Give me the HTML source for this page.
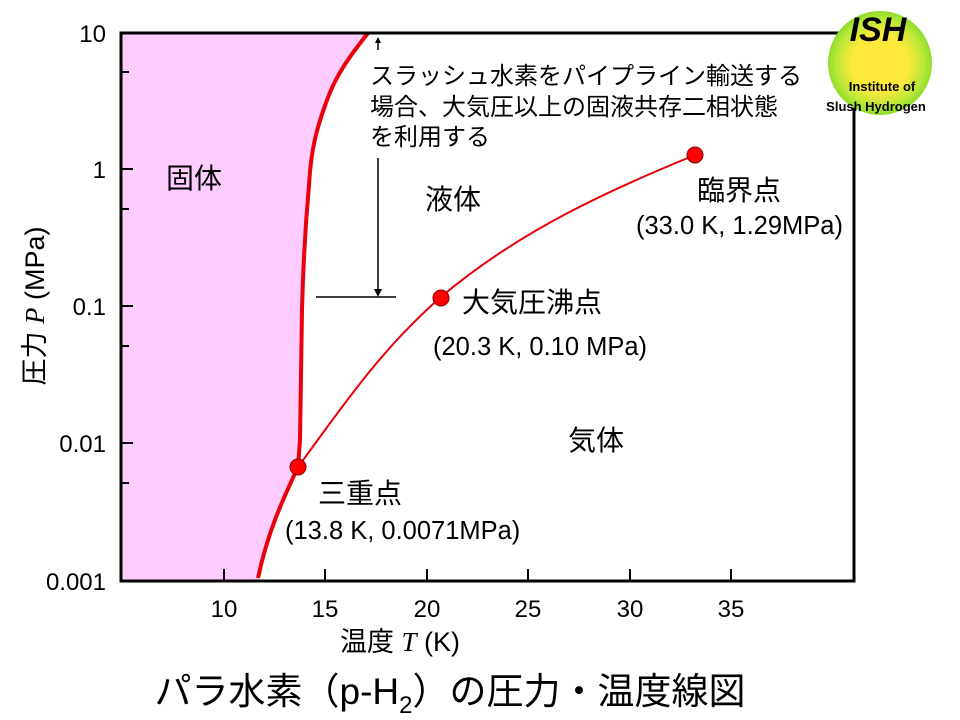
<!DOCTYPE html>
<html><head><meta charset="utf-8"><style>
html,body{margin:0;padding:0;background:#fff;width:960px;height:720px;overflow:hidden}
svg text{font-family:"Liberation Sans","Noto Sans CJK JP",sans-serif;fill:#000}
</style></head><body>
<svg width="960" height="720" viewBox="0 0 960 720" xmlns="http://www.w3.org/2000/svg">
<defs>
<radialGradient id="g" cx="50%" cy="50%" r="50%">
<stop offset="0" stop-color="#ffe83a"/><stop offset="0.55" stop-color="#fde93a"/><stop offset="0.85" stop-color="#b8e838"/><stop offset="1" stop-color="#8fdc2c"/>
</radialGradient>
</defs>
<path d="M121,33 L368,33 C355,50 338,70 327,100 C316,130 311,150 309,185 C305,230 303,270 302,310 L300,440 L298,467 C285,495 268,530 258,581 L121,581 Z" fill="#ffccff"/>
<path d="M368,33 C355,50 338,70 327,100 C316,130 311,150 309,185 C305,230 303,270 302,310 L300,440 L298,467 C285,495 268,530 258,578" fill="none" stroke="#e8000a" stroke-width="4"/>
<path d="M298,467 C340,410 380,350 441,297 C520,230 610,190 695,155" fill="none" stroke="#e8000a" stroke-width="2"/>
<rect x="121" y="33" width="733" height="548" fill="none" stroke="#000" stroke-width="3"/>
<g stroke="#000" stroke-width="2">
<line x1="121" y1="169" x2="133" y2="169"/><line x1="121" y1="306" x2="133" y2="306"/><line x1="121" y1="443" x2="133" y2="443"/>
<line x1="121" y1="72" x2="129" y2="72"/><line x1="121" y1="209" x2="129" y2="209"/><line x1="121" y1="346" x2="129" y2="346"/><line x1="121" y1="483" x2="129" y2="483"/>
<line x1="224" y1="581" x2="224" y2="569"/><line x1="325" y1="581" x2="325" y2="569"/><line x1="427" y1="581" x2="427" y2="569"/><line x1="528" y1="581" x2="528" y2="569"/><line x1="630" y1="581" x2="630" y2="569"/><line x1="731" y1="581" x2="731" y2="569"/>
</g>
<g font-size="24" text-anchor="end">
<text x="106" y="42">10</text><text x="106" y="178">1</text><text x="106" y="315">0.1</text><text x="106" y="452">0.01</text><text x="106" y="590">0.001</text>
</g>
<g font-size="24" text-anchor="middle">
<text x="224" y="617">10</text><text x="325" y="617">15</text><text x="427" y="617">20</text><text x="528" y="617">25</text><text x="630" y="617">30</text><text x="731" y="617">35</text>
</g>
<text x="400" y="651" font-size="27" text-anchor="middle">温度 <tspan font-family="Liberation Serif" font-style="italic">T</tspan> (K)</text>
<text transform="translate(44,306) rotate(-90)" font-size="27" text-anchor="middle">圧力 <tspan font-family="Liberation Serif" font-style="italic">P</tspan> (MPa)</text>
<text x="450" y="704" font-size="37" text-anchor="middle">パラ水素（p-H<tspan font-size="24" dy="9">2</tspan><tspan dy="-9">）の圧力・温度線図</tspan></text>
<text x="166" y="188" font-size="28">固体</text>
<text x="425" y="209" font-size="28">液体</text>
<text x="568" y="450" font-size="28">気体</text>
<text x="697" y="200" font-size="28">臨界点</text>
<text x="636" y="234" font-size="25.5">(33.0 K, 1.29MPa)</text>
<text x="462" y="312" font-size="28">大気圧沸点</text>
<text x="433" y="355" font-size="25.5">(20.3 K, 0.10 MPa)</text>
<text x="318" y="503" font-size="28">三重点</text>
<text x="285" y="539" font-size="25.5">(13.8 K, 0.0071MPa)</text>
<g font-size="24">
<text x="370" y="84">スラッシュ水素をパイプライン輸送する</text>
<text x="370" y="115">場合、大気圧以上の固液共存二相状態</text>
<text x="370" y="145">を利用する</text>
</g>
<g stroke="#000" stroke-width="1.5">
<line x1="378" y1="158" x2="378" y2="292"/>
<line x1="316" y1="297" x2="396" y2="297"/>
<line x1="378" y1="42" x2="378" y2="50"/>
</g>
<path d="M374,289 L382,289 L378,297 Z" fill="#000"/>
<path d="M375,43 L381,43 L378,37 Z" fill="#000"/>
<g fill="#ff0000" stroke="#800" stroke-width="1">
<circle cx="298" cy="467" r="8"/><circle cx="441" cy="298" r="8"/><circle cx="695" cy="155" r="8"/>
</g>
<circle cx="880" cy="63" r="52" fill="url(#g)"/>
<text x="878" y="41" font-size="34" font-weight="bold" font-style="italic" text-anchor="middle" fill="#222">ISH</text>
<text x="882" y="91" font-size="13" font-weight="bold" text-anchor="middle" fill="#333">Institute of</text>
<text x="876" y="111" font-size="13" font-weight="bold" text-anchor="middle" fill="#333">Slush Hydrogen</text>
</svg>
</body></html>
